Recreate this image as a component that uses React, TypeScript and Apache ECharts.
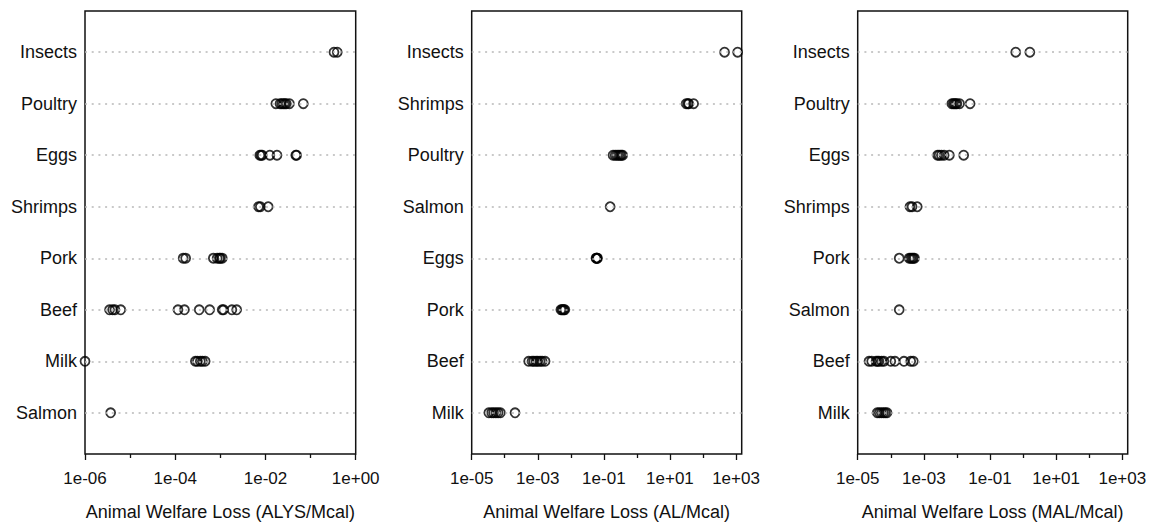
import React, { useEffect, useRef } from "react";
import * as echarts from "echarts";

// ---- Panel 1: ALYS/Mcal ----
const alysCategories = ["Insects", "Poultry", "Eggs", "Shrimps", "Pork", "Beef", "Milk", "Salmon"];
const alysValues: number[][] = [
  [0.33, 0.39],
  [0.017, 0.021, 0.023, 0.025, 0.027, 0.029, 0.034, 0.069],
  [0.0075, 0.008, 0.0085, 0.0125, 0.018, 0.047, 0.049],
  [0.007, 0.0077, 0.0115],
  [1.5e-4, 1.7e-4, 7.0e-4, 8.5e-4, 9.5e-4, 1.0e-3, 1.1e-3],
  [3.5e-6, 4.1e-6, 4.6e-6, 6.2e-6, 1.15e-4, 1.6e-4, 3.4e-4, 5.8e-4, 1.1e-3, 1.18e-3, 1.8e-3, 2.3e-3],
  [1e-6, 2.8e-4, 3.1e-4, 3.6e-4, 4.0e-4, 4.6e-4],
  [3.7e-6],
];
const alysMajorExp = [-6, -4, -2, 0];
const alysMinorExp = [-5, -3, -1];

// ---- Panel 2: AL/Mcal ----
const alCategories = ["Insects", "Shrimps", "Poultry", "Salmon", "Eggs", "Pork", "Beef", "Milk"];
const alValues: number[][] = [
  [450, 1120],
  [31, 35, 37, 52],
  [0.19, 0.22, 0.25, 0.28, 0.31, 0.34, 0.37],
  [0.155],
  [0.058, 0.06, 0.062, 0.064],
  [5.0e-3, 5.4e-3, 5.8e-3, 6.2e-3, 6.6e-3],
  [5.3e-4, 6.7e-4, 7.6e-4, 8.9e-4, 1.0e-3, 1.17e-3, 1.35e-3, 1.66e-3],
  [3.3e-5, 4.0e-5, 4.6e-5, 5.4e-5, 6.3e-5, 7.4e-5, 2.05e-4],
];
const alMajorExp = [-5, -3, -1, 1, 3];
const alMinorExp = [-4, -2, 0, 2];

// ---- Panel 3: MAL/Mcal ----
const malCategories = ["Insects", "Poultry", "Eggs", "Shrimps", "Pork", "Salmon", "Beef", "Milk"];
const malValues: number[][] = [
  [0.6, 1.6],
  [7.0e-3, 7.8e-3, 8.5e-3, 9.2e-3, 1.0e-2, 1.2e-2, 2.5e-2],
  [2.6e-3, 2.9e-3, 3.4e-3, 4.1e-3, 5.9e-3, 1.6e-2],
  [3.8e-4, 4.4e-4, 6.3e-4],
  [1.8e-4, 3.6e-4, 4.0e-4, 4.4e-4, 4.8e-4, 5.2e-4],
  [1.8e-4],
  [2.2e-5, 2.65e-5, 3.6e-5, 4.0e-5, 4.4e-5, 5.3e-5, 6.2e-5, 1.0e-4, 1.34e-4, 2.5e-4, 4.0e-4, 4.8e-4],
  [3.9e-5, 4.5e-5, 5.2e-5, 6.0e-5, 6.8e-5, 7.7e-5],
];
const malMajorExp = [-5, -3, -1, 1, 3];
const malMinorExp = [-4, -2, 0, 2];

const panelTitles = [
  "Animal Welfare Loss (ALYS/Mcal)",
  "Animal Welfare Loss (AL/Mcal)",
  "Animal Welfare Loss (MAL/Mcal)",
];

const FONT = "Liberation Sans, Arial, Helvetica, sans-serif";

function expLabel(v: number): string {
  const e = Math.round(v);
  const sign = e < 0 ? "-" : "+";
  const a = String(Math.abs(e)).padStart(2, "0");
  return `1e${sign}${a}`;
}

export default function App() {
  const ref = useRef<HTMLDivElement>(null);

  useEffect(() => {
    if (!ref.current) return;
    const chart = echarts.init(ref.current, null, { renderer: "svg" });

    const panels = [
      { cats: alysCategories, vals: alysValues, major: alysMajorExp, minor: alysMinorExp, left: 85, width: 270.7, min: -6, max: 0 },
      { cats: alCategories, vals: alValues, major: alMajorExp, minor: alMinorExp, left: 471.7, width: 270, min: -5, max: 3.172 },
      { cats: malCategories, vals: malValues, major: malMajorExp, minor: malMinorExp, left: 857.7, width: 270, min: -5, max: 3.163 },
    ];

    const grid: any[] = [];
    const xAxis: any[] = [];
    const yAxis: any[] = [];
    const series: any[] = [];

    panels.forEach((p, i) => {
      grid.push({
        left: p.left,
        width: p.width,
        top: 11,
        height: 445.7,
        show: true,
        borderColor: "#111",
        borderWidth: 1.5,
        backgroundColor: "transparent",
        containLabel: false,
      });
      // major x axis
      xAxis.push({
        type: "value",
        gridIndex: i,
        min: p.min,
        max: p.max,
        position: "bottom",
        name: panelTitles[i],
        nameLocation: "middle",
        nameGap: 49,
        nameTextStyle: { fontFamily: FONT, fontSize: 18, color: "#111" },
        axisLine: { show: false },
        splitLine: { show: false },
        axisTick: {
          show: true,
          customValues: p.major,
          length: 6,
          lineStyle: { color: "#111", width: 1.3 },
        },
        axisLabel: {
          show: true,
          customValues: p.major,
          margin: 16,
          fontFamily: FONT,
          fontSize: 17,
          color: "#111",
          formatter: (v: number) => expLabel(v),
        },
      });
      // minor ticks x axis
      xAxis.push({
        type: "value",
        gridIndex: i,
        min: p.min,
        max: p.max,
        position: "bottom",
        offset: 0,
        axisLine: { show: false },
        splitLine: { show: false },
        axisTick: {
          show: true,
          customValues: p.minor,
          length: 4,
          lineStyle: { color: "#111", width: 1.3 },
        },
        axisLabel: { show: false },
      });
      yAxis.push({
        type: "value",
        gridIndex: i,
        min: 0.2,
        max: 8.8,
        axisLine: { show: false },
        axisTick: { show: false },
        splitLine: { show: false },
        axisLabel: {
          show: true,
          customValues: [1, 2, 3, 4, 5, 6, 7, 8],
          margin: 8,
          fontFamily: FONT,
          fontSize: 18,
          color: "#111",
          formatter: (v: number) => p.cats[8 - Math.round(v)] ?? "",
        },
      });

      const data: number[][] = [];
      p.vals.forEach((row, ci) => {
        row.forEach((v) => data.push([Math.log10(v), 8 - ci]));
      });

      // dotted guide lines
      series.push({
        type: "scatter",
        xAxisIndex: i * 2,
        yAxisIndex: i,
        data: [],
        silent: true,
        z: 1,
        markLine: {
          silent: true,
          symbol: ["none", "none"],
          label: { show: false },
          lineStyle: { color: "#b8b8b8", type: [2, 4.7], width: 1.5 },
          data: p.cats.map((_, ci) => ({ yAxis: 8 - ci })),
        },
      });
      series.push({
        type: "scatter",
        xAxisIndex: i * 2,
        yAxisIndex: i,
        data,
        z: 3,
        symbol: "circle",
        symbolSize: 9,
        itemStyle: {
          color: "rgba(0,0,0,0)",
          borderColor: "#000",
          borderWidth: 1.8,
        },
      });
    });

    chart.setOption({
      animation: false,
      backgroundColor: "#fff",
      grid,
      xAxis,
      yAxis,
      series,
    });

    return () => chart.dispose();
  }, []);

  return (
    <div
      ref={ref}
      style={{ position: "fixed", left: 0, top: 0, width: 1151, height: 526, background: "#fff" }}
    />
  );
}
